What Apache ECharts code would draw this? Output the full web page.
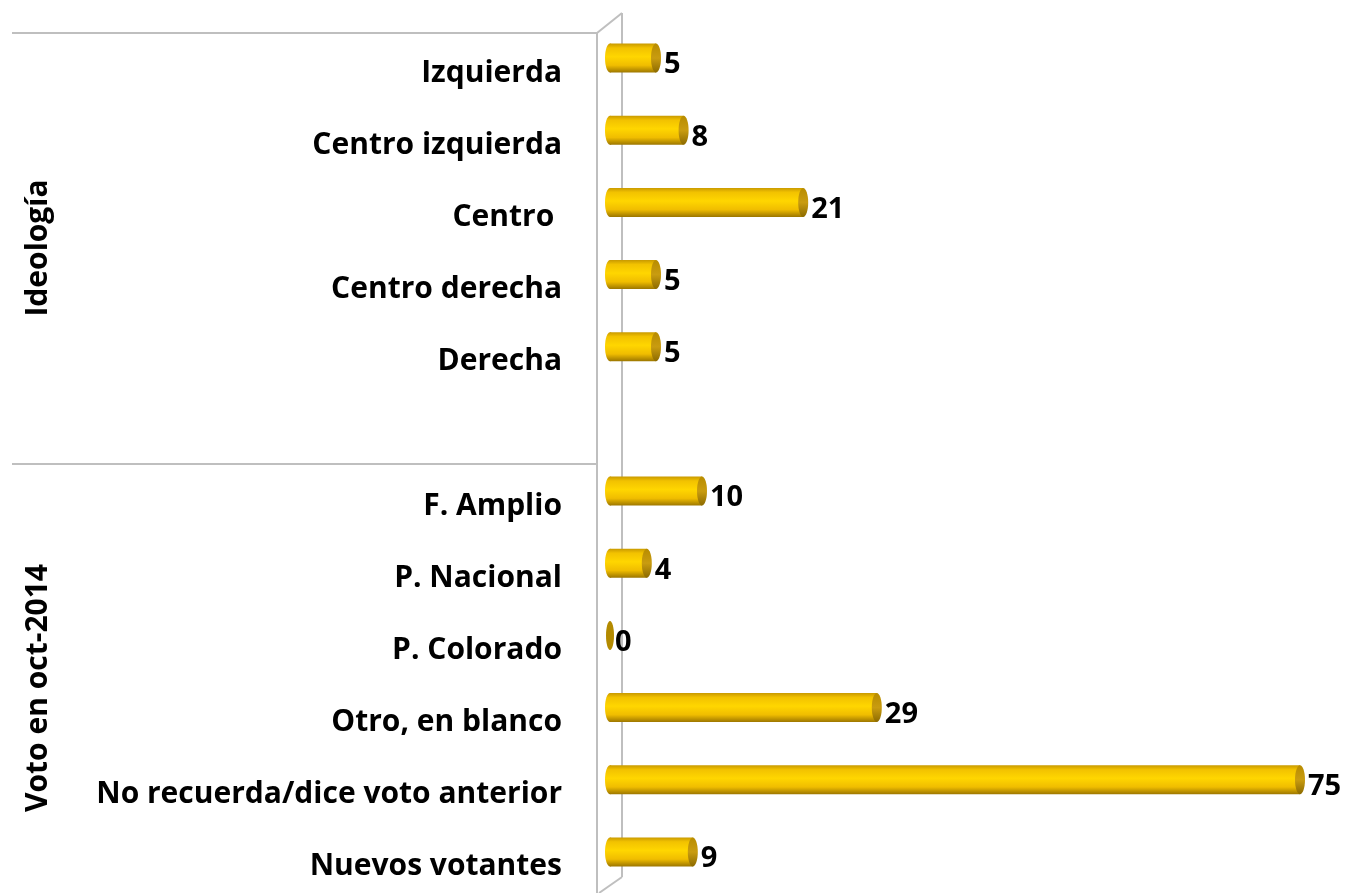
<html>
<head>
<meta charset="UTF-8">
<title>Ideología y voto</title>
<script type="text/javascript" src="https://cdn.jsdelivr.net/npm/echarts@6/dist/echarts.min.js"></script>
<style>
	html, body { margin: 0; padding: 0; background: #ffffff; }
	#main { width: 1347px; height: 893px; }
</style>
</head>
<body>
	<div id="main"></div>
	<script type="text/javascript">
		// categorias (la vacia separa los dos bloques)
		var categories = ['Izquierda', 'Centro izquierda', 'Centro ', 'Centro derecha', 'Derecha', '',
			'F. Amplio', 'P. Nacional', 'P. Colorado', 'Otro, en blanco', 'No recuerda/dice voto anterior', 'Nuevos votantes'];
		var values = [5, 8, 21, 5, 5, null, 10, 4, 0, 29, 75, 9];
		var groupLabels = ['Ideología', 'Voto en oct-2014'];

		var lineColor = '#bfbfbf';
		var fontFam = '"Open Sans", sans-serif';

		var barData = [];
		for (var i = 0; i < values.length; i++) {
			if (values[i] !== null) {
				barData.push([values[i], i]);
			}
		}

		// cilindro: cuerpo + elipse en cada extremo
		function renderItem(params, api) {
			var v = api.value(0);
			var start = api.coord([0, api.value(1)]);
			var end = api.coord([v, api.value(1)]);
			var h = 29;
			var rx = 5;
			var top = start[1] - h / 2;
			var bodyGrad = new echarts.graphic.LinearGradient(0, 0, 0, 1, [
				{offset: 0, color: '#c99a00'},
				{offset: 0.15, color: '#f2c200'},
				{offset: 0.45, color: '#ffd600'},
				{offset: 0.75, color: '#f0bd00'},
				{offset: 1, color: '#9c7600'}
			]);
			var capGrad = new echarts.graphic.LinearGradient(0, 0, 0, 1, [
				{offset: 0, color: '#b88c00'},
				{offset: 0.5, color: '#c99c10'},
				{offset: 1, color: '#8c6a00'}
			]);
			var children = [];
			if (v === 0) {
				children.push({
					type: 'ellipse',
					shape: {cx: start[0], cy: start[1], rx: 4, ry: h / 2},
					style: {fill: '#b38a00'}
				});
			} else {
				children.push({
					type: 'ellipse',
					shape: {cx: start[0], cy: start[1], rx: rx, ry: h / 2},
					style: {fill: bodyGrad}
				});
				children.push({
					type: 'rect',
					shape: {x: start[0], y: top, width: end[0] - start[0], height: h},
					style: {fill: bodyGrad}
				});
				children.push({
					type: 'ellipse',
					shape: {cx: end[0], cy: end[1], rx: rx, ry: h / 2},
					style: {fill: capGrad}
				});
			}
			children.push({
				type: 'text',
				style: {
					x: end[0] + (v === 0 ? 5 : rx + 3),
					y: end[1] + 7,
					text: String(v),
					fill: '#000000',
					font: 'bold 29px ' + fontFam,
					align: 'left',
					verticalAlign: 'middle'
				}
			});
			return {type: 'group', children: children};
		}

		var myChart = echarts.init(document.getElementById('main'));
		var option = {
			animation: false,
			backgroundColor: '#ffffff',
			grid: {left: 610, width: 690, top: 22, height: 866},
			xAxis: {
				type: 'value', min: 0, max: 75,
				show: false
			},
			yAxis: {
				type: 'category',
				data: categories,
				inverse: true,
				axisLine: {show: false},
				axisTick: {show: false},
				splitLine: {show: false},
				axisLabel: {
					margin: 48,
					color: '#000000',
					fontFamily: fontFam,
					fontWeight: 'bold',
					fontSize: 30,
					verticalAlign: 'top',
					lineHeight: 30
				}
			},
			graphic: [
				// pared del eje
				{type: 'line', z: 0, shape: {x1: 12, y1: 33, x2: 597, y2: 33}, style: {stroke: lineColor, lineWidth: 2}},
				{type: 'line', z: 0, shape: {x1: 12, y1: 464, x2: 597, y2: 464}, style: {stroke: lineColor, lineWidth: 2}},
				{type: 'line', z: 0, shape: {x1: 597, y1: 33, x2: 597, y2: 893}, style: {stroke: lineColor, lineWidth: 2}},
				{type: 'line', z: 0, shape: {x1: 622, y1: 13, x2: 622, y2: 877}, style: {stroke: lineColor, lineWidth: 2}},
				{type: 'line', z: 0, shape: {x1: 597, y1: 33, x2: 622, y2: 13}, style: {stroke: lineColor, lineWidth: 2}},
				{type: 'line', z: 0, shape: {x1: 622, y1: 877, x2: 599, y2: 893}, style: {stroke: lineColor, lineWidth: 2}},
				// etiquetas de grupo
				{type: 'text', x: 38, y: 248, rotation: Math.PI / 2,
					style: {text: groupLabels[0], font: 'bold 30px ' + fontFam, fill: '#000', align: 'center', verticalAlign: 'middle'}},
				{type: 'text', x: 38, y: 688, rotation: Math.PI / 2,
					style: {text: groupLabels[1], font: 'bold 30px ' + fontFam, fill: '#000', align: 'center', verticalAlign: 'middle'}}
			],
			series: [{
				type: 'custom',
				renderItem: renderItem,
				encode: {x: 0, y: 1},
				data: barData,
				z: 5
			}]
		};
		myChart.setOption(option);
	</script>
</body>
</html>
